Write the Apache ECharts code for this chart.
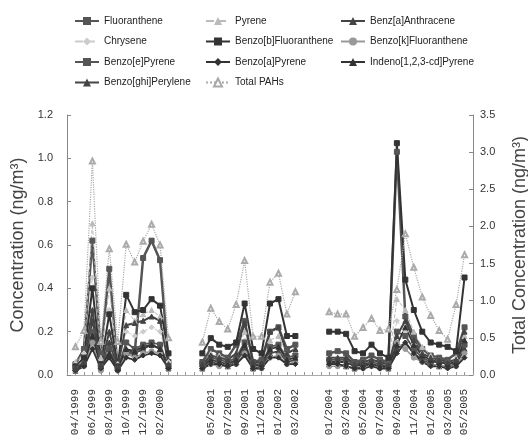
<!DOCTYPE html>
<html>
<head>
<meta charset="utf-8">
<title>PAHs concentration</title>
<script src="https://cdn.jsdelivr.net/npm/echarts@6/dist/echarts.min.js"></script>
<style>
  html, body { margin: 0; padding: 0; background: #fff; }
  #chart { width: 528px; height: 442px; }
</style>
</head>
<body>
<div id="chart"></div>
<script>
// sampling months of the three campaigns
var months1999 = ["04/1999", "05/1999", "06/1999", "07/1999", "08/1999", "09/1999",
  "10/1999", "11/1999", "12/1999", "01/2000", "02/2000", "03/2000"];
var months2001 = ["04/2001", "05/2001", "06/2001", "07/2001", "08/2001", "09/2001",
  "10/2001", "11/2001", "12/2001", "01/2002", "02/2002", "03/2002"];
var months2004 = ["01/2004", "02/2004", "03/2004", "04/2004", "05/2004", "06/2004",
  "07/2004", "08/2004", "09/2004", "10/2004", "11/2004", "12/2004",
  "01/2005", "02/2005", "03/2005", "04/2005", "05/2005"];

var tickLabels = ["04/1999", "06/1999", "08/1999", "10/1999", "12/1999", "02/2000",
  "05/2001", "07/2001", "09/2001", "11/2001", "01/2002", "03/2002",
  "01/2004", "03/2004", "05/2004", "07/2004", "09/2004", "11/2004",
  "01/2005", "03/2005", "05/2005"];

// values in ng/m3, 1999-2000 | 2001-2002 | 2004-2005
var fluoranthene = [0.05, 0.12, 0.62, 0.1, 0.49, 0.03, 0.1, 0.1, 0.54, 0.62, 0.53, 0.06,
  0.06, 0.12, 0.1, 0.08, 0.14, 0.25, 0.06, 0.07, 0.2, 0.22, 0.12, 0.14,
  0.1, 0.11, 0.1, 0.06, 0.07, 0.09, 0.07, 0.06, 1.03, 0.27, 0.18, 0.12, 0.09, 0.08, 0.07, 0.1, 0.22];
var pyrene = [0.06, 0.1, 0.7, 0.08, 0.4, 0.05, 0.3, 0.25, 0.28, 0.3, 0.27, 0.05,
  0.05, 0.1, 0.09, 0.07, 0.1, 0.2, 0.05, 0.06, 0.16, 0.18, 0.1, 0.12,
  0.08, 0.08, 0.07, 0.05, 0.06, 0.07, 0.06, 0.05, 0.35, 0.3, 0.2, 0.13, 0.09, 0.07, 0.06, 0.08, 0.18];
var benzAAnthracene = [0.02, 0.05, 0.25, 0.03, 0.15, 0.03, 0.12, 0.1, 0.12, 0.14, 0.12, 0.03,
  0.03, 0.06, 0.05, 0.04, 0.06, 0.12, 0.03, 0.04, 0.1, 0.11, 0.06, 0.07,
  0.05, 0.05, 0.04, 0.03, 0.04, 0.05, 0.04, 0.03, 0.12, 0.15, 0.1, 0.07, 0.05, 0.04, 0.04, 0.05, 0.12];
var chrysene = [0.05, 0.1, 0.45, 0.06, 0.3, 0.05, 0.2, 0.18, 0.2, 0.22, 0.2, 0.06,
  0.04, 0.08, 0.07, 0.06, 0.08, 0.16, 0.05, 0.05, 0.13, 0.14, 0.08, 0.1,
  0.06, 0.06, 0.06, 0.04, 0.05, 0.06, 0.05, 0.04, 0.25, 0.2, 0.14, 0.1, 0.07, 0.06, 0.05, 0.07, 0.15];
var benzoBFluoranthene = [0.04, 0.08, 0.4, 0.05, 0.28, 0.04, 0.37, 0.29, 0.3, 0.35, 0.32, 0.1,
  0.1, 0.17, 0.14, 0.13, 0.15, 0.33, 0.12, 0.1, 0.33, 0.35, 0.18, 0.18,
  0.2, 0.2, 0.19, 0.11, 0.1, 0.14, 0.1, 0.08, 1.07, 0.44, 0.3, 0.2, 0.15, 0.14, 0.13, 0.11, 0.45];
var benzoKFluoranthene = [0.02, 0.04, 0.15, 0.02, 0.1, 0.02, 0.1, 0.08, 0.1, 0.11, 0.1, 0.03,
  0.03, 0.05, 0.04, 0.04, 0.05, 0.1, 0.03, 0.03, 0.08, 0.09, 0.05, 0.06,
  0.04, 0.04, 0.04, 0.03, 0.03, 0.04, 0.03, 0.03, 0.15, 0.12, 0.08, 0.06, 0.05, 0.04, 0.04, 0.04, 0.1];
var benzoEPyrene = [0.03, 0.05, 0.2, 0.04, 0.12, 0.03, 0.15, 0.12, 0.14, 0.15, 0.14, 0.04,
  0.05, 0.08, 0.07, 0.06, 0.08, 0.15, 0.05, 0.05, 0.13, 0.14, 0.08, 0.09,
  0.07, 0.07, 0.07, 0.05, 0.05, 0.06, 0.05, 0.04, 0.2, 0.18, 0.12, 0.08, 0.06, 0.06, 0.05, 0.06, 0.14];
var benzoAPyrene = [0.02, 0.04, 0.12, 0.03, 0.08, 0.02, 0.08, 0.07, 0.09, 0.1, 0.09, 0.03,
  0.03, 0.05, 0.05, 0.04, 0.05, 0.09, 0.03, 0.03, 0.08, 0.08, 0.05, 0.05,
  0.05, 0.05, 0.04, 0.03, 0.03, 0.04, 0.03, 0.03, 0.1, 0.15, 0.1, 0.06, 0.04, 0.04, 0.03, 0.04, 0.08];
var indenoPyrene = [0.03, 0.05, 0.18, 0.04, 0.1, 0.03, 0.12, 0.11, 0.13, 0.14, 0.12, 0.04,
  0.04, 0.07, 0.06, 0.05, 0.07, 0.14, 0.04, 0.05, 0.12, 0.13, 0.07, 0.08,
  0.06, 0.06, 0.06, 0.04, 0.05, 0.05, 0.04, 0.04, 0.14, 0.22, 0.14, 0.09, 0.07, 0.06, 0.05, 0.06, 0.16];
var benzoGhiPerylene = [0.03, 0.06, 0.3, 0.04, 0.2, 0.04, 0.23, 0.24, 0.25, 0.27, 0.25, 0.05,
  0.05, 0.09, 0.08, 0.07, 0.1, 0.24, 0.06, 0.06, 0.2, 0.22, 0.1, 0.12,
  0.08, 0.08, 0.08, 0.05, 0.06, 0.07, 0.06, 0.05, 0.18, 0.25, 0.16, 0.1, 0.08, 0.07, 0.06, 0.07, 0.2];
// right axis
var totalPAHs = [0.38, 0.6, 2.88, 0.45, 1.7, 0.45, 1.76, 1.52, 1.8, 2.03, 1.75, 0.5,
  0.44, 0.9, 0.72, 0.62, 0.95, 1.54, 0.52, 0.52, 1.25, 1.37, 0.82, 1.12,
  0.85, 0.82, 0.82, 0.52, 0.64, 0.76, 0.6, 0.62, 1.15, 1.9, 1.45, 1.05, 0.8, 0.6, 0.48, 0.95, 1.62];

// empty slots between campaigns (the axis is broken there)
function pad(n, tag) {
  var a = [];
  for (var i = 0; i < n; i++) a.push(tag + i);
  return a;
}
var categories = [].concat(pad(1, "_a"), months1999, pad(3, "_b"), months2001,
  pad(3, "_c"), months2004, pad(1, "_d"));

function spread(vals) {
  var k = 0;
  return categories.map(function (c) {
    return c.charAt(0) === "_" ? null : vals[k++];
  });
}

var sans = '"Liberation Sans", Arial, sans-serif';

function line(name, data, color, symbol, width, type, axis) {
  return {
    name: name,
    type: "line",
    yAxisIndex: axis || 0,
    data: spread(data),
    symbol: symbol,
    symbolSize: 5,
    connectNulls: false,
    lineStyle: { color: color, width: width, type: type || "solid" },
    itemStyle: { color: color, borderColor: color },
  };
}

var chart = echarts.init(document.getElementById("chart"));
var legendText = { fontFamily: sans, fontSize: 10, color: "#222" };
var option = {
  animation: false,
  backgroundColor: "#fff",
  legend: [
    {
      orient: "vertical", left: 74, top: 16, padding: 0, itemGap: 10.5,
      itemWidth: 24, itemHeight: 10, textStyle: legendText,
      data: ["Fluoranthene", "Chrysene", "Benzo[e]Pyrene", "Benzo[ghi]Perylene"],
    },
    {
      orient: "vertical", left: 205, top: 16, padding: 0, itemGap: 10.5,
      itemWidth: 24, itemHeight: 10, textStyle: legendText,
      data: ["Pyrene", "Benzo[b]Fluoranthene", "Benzo[a]Pyrene", "Total PAHs"],
    },
    {
      orient: "vertical", left: 340, top: 16, padding: 0, itemGap: 10.5,
      itemWidth: 24, itemHeight: 10, textStyle: legendText,
      data: ["Benz[a]Anthracene", "Benzo[k]Fluoranthene", "Indeno[1,2,3-cd]Pyrene"],
    },
  ],
  grid: { left: 67, right: 55, top: 115, bottom: 67, outerBoundsMode: "none" },
  xAxis: {
    type: "category",
    data: categories,
    boundaryGap: false,
    axisLine: { lineStyle: { color: "#aaa", width: 1 } },
    axisTick: { inside: true, length: 3, interval: 0, lineStyle: { color: "#999" } },
    axisLabel: {
      interval: function (index, value) {
        return tickLabels.indexOf(value) >= 0;
      },
      rotate: 90,
      margin: 14,
      fontFamily: '"Liberation Mono", "DejaVu Sans Mono", monospace',
      fontSize: 11,
      color: "#333",
    },
    splitLine: { show: false },
  },
  yAxis: [
    {
      type: "value",
      min: 0,
      max: 1.2,
      interval: 0.2,
      name: "Concentration (ng/m³)",
      nameLocation: "middle",
      nameGap: 39,
      nameTextStyle: { fontFamily: sans, fontSize: 18, color: "#444" },
      axisLine: { show: true, lineStyle: { color: "#888" } },
      axisTick: { show: true, inside: true, length: 4, lineStyle: { color: "#888" } },
      axisLabel: {
        margin: 14, fontFamily: sans, fontSize: 11, color: "#333",
        formatter: function (v) { return v.toFixed(1); },
      },
      splitLine: { show: false },
    },
    {
      type: "value",
      position: "right",
      min: 0,
      max: 3.5,
      interval: 0.5,
      name: "Total Concentration (ng/m³)",
      nameLocation: "middle",
      nameGap: 38,
      nameTextStyle: { fontFamily: sans, fontSize: 18, color: "#444" },
      axisLine: { show: true, lineStyle: { color: "#888" } },
      axisTick: { show: true, inside: true, length: 4, lineStyle: { color: "#888" } },
      axisLabel: {
        margin: 7, fontFamily: sans, fontSize: 11, color: "#333",
        formatter: function (v) { return v.toFixed(1); },
      },
      splitLine: { show: false },
    },
  ],
  series: [
    line("Fluoranthene", fluoranthene, "#555", "rect", 2.5),
    line("Pyrene", pyrene, "#bbb", "triangle", 1, "dashed"),
    line("Benz[a]Anthracene", benzAAnthracene, "#444", "triangle", 1.8),
    line("Chrysene", chrysene, "#ccc", "diamond", 1, "dashed"),
    line("Benzo[b]Fluoranthene", benzoBFluoranthene, "#333", "rect", 2),
    line("Benzo[k]Fluoranthene", benzoKFluoranthene, "#999", "circle", 1.5),
    line("Benzo[e]Pyrene", benzoEPyrene, "#555", "rect", 1.8),
    line("Benzo[a]Pyrene", benzoAPyrene, "#333", "diamond", 1.8),
    line("Indeno[1,2,3-cd]Pyrene", indenoPyrene, "#333", "triangle", 1.8),
    line("Benzo[ghi]Perylene", benzoGhiPerylene, "#444", "triangle", 2),
    line("Total PAHs", totalPAHs, "#aaa", "emptyTriangle", 1.2, "dotted", 1),
  ],
};
chart.setOption(option);
window.onresize = chart.resize;
</script>
</body>
</html>
